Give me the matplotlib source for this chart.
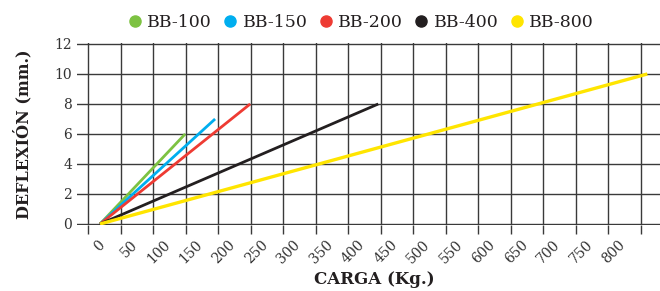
import matplotlib
matplotlib.use('Agg')
import matplotlib.pyplot as plt
from matplotlib.lines import Line2D
import numpy as np

# series: (load end, deflection end), every line starts at 0,0
names = ['BB-100', 'BB-150', 'BB-200', 'BB-400', 'BB-800']
colors = ['#7DC242', '#00AEEF', '#EE3B33', '#231F20', '#FFE500']
load_end = [131, 177, 231, 428, 842]
defl_end = [6, 7, 8, 8, 10]
widths = [2.0, 2.0, 2.0, 2.0, 2.4]

x_labels = [str(v) for v in range(0, 801, 50)]
y_ticks = [0, 2, 4, 6, 8, 10, 12]

plt.rcParams['font.family'] = 'DejaVu Serif'
grid_color = '#3a3a3a'

fig = plt.figure(figsize=(6.6, 2.91), dpi=100)
ax = fig.add_axes([0.1167, 0.2277, 0.8833, 0.6237])

for name, c, xe, ye, lw in zip(names, colors, load_end, defl_end, widths):
    ax.plot([0, xe], [0, ye], color=c, linewidth=lw, solid_capstyle='butt', zorder=3)

ax.set_xlim(-35.4, 861.5)
ax.set_ylim(-0.05, 12.05)

# labels sit a bit right of the grid lines in the original
ax.set_xticks(np.arange(0, 801, 50) + 12)
ax.set_xticklabels(x_labels, rotation=45, ha='right')
ax.set_xticks(np.arange(-18, 850, 50), minor=True)
ax.set_yticks(y_ticks)
ax.set_yticklabels([str(v) for v in y_ticks])

ax.tick_params(axis='x', which='major', length=0, pad=9.5, labelsize=10, labelcolor='#333333')
ax.tick_params(axis='x', which='minor', length=6.5, width=1.0, color=grid_color, direction='out')
ax.tick_params(axis='y', which='major', length=0, pad=3.5, labelsize=10, labelcolor='#333333')

ax.grid(axis='x', which='minor', color=grid_color, linewidth=1.0)
ax.grid(axis='y', which='major', color=grid_color, linewidth=1.0)
ax.set_axisbelow(True)
for s in ax.spines.values():
    s.set_visible(False)

ax.set_ylabel('DEFLEXIÓN (mm.)', fontsize=11.5, fontweight='bold', color='#231F20', labelpad=16)
fig.text(374 / 660, 1 - 280 / 291, 'CARGA (Kg.)', fontsize=12, fontweight='bold',
         color='#231F20', ha='center', va='center')

handles = [Line2D([], [], linestyle='none', marker='o', markersize=8,
                  markerfacecolor=c, markeredgecolor=c) for c in colors]
fig.legend(handles, names, loc='center', bbox_to_anchor=(361.5 / 660, 1 - 22.8 / 291),
           ncol=5, frameon=False, fontsize=12.5, handlelength=0.65, handletextpad=0.4,
           columnspacing=0.72, borderaxespad=0, labelcolor='#231F20')

fig.savefig('out.png', dpi=100)
